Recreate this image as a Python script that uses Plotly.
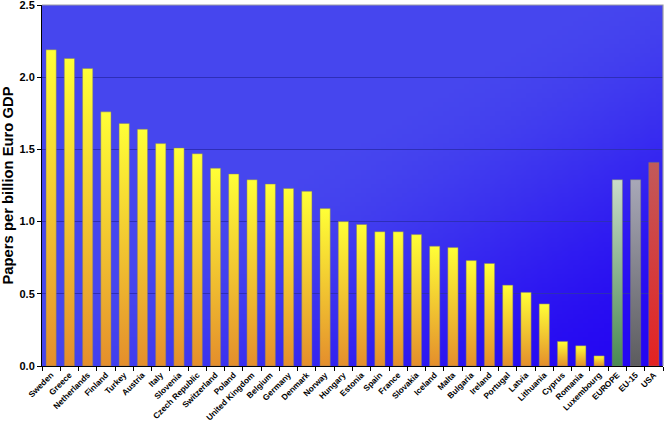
import base64, struct, zlib
import plotly.graph_objects as go

countries = ["Sweden", "Greece", "Netherlands", "Finland", "Turkey", "Austria", "Italy",
             "Slovenia", "Czech Republic", "Switzerland", "Poland", "United Kingdom",
             "Belgium", "Germany", "Denmark", "Norway", "Hungary", "Estonia", "Spain",
             "France", "Slovakia", "Iceland", "Malta", "Bulgaria", "Ireland", "Portugal",
             "Latvia", "Lithuania", "Cyprus", "Romania", "Luxembourg", "EUROPE", "EU-15", "USA"]
values = [2.19, 2.13, 2.06, 1.76, 1.68, 1.64, 1.54, 1.51, 1.47, 1.37, 1.33, 1.29,
          1.26, 1.23, 1.21, 1.09, 1.00, 0.98, 0.93, 0.93, 0.91, 0.83, 0.82, 0.73,
          0.71, 0.56, 0.51, 0.43, 0.17, 0.14, 0.07, 1.29, 1.29, 1.41]
y_ticks = [0.0, 0.5, 1.0, 1.5, 2.0, 2.5]
y_title = "Papers per billion Euro GDP"

# gradient (bottom, top) colours
country_grad = ("#e48e2c", "#ffff36")
special_grad = {"EUROPE": ("#4a8a52", "#cadcca"),
                "EU-15": ("#5c5c5e", "#a8a8b8"),
                "USA": ("#e42222", "#c25a5a")}


def gradient_png(w=120, h=80):
    c0 = (0x46, 0x46, 0xee)
    c1 = (0x24, 0x06, 0xf2)
    rows = []
    for j in range(h):
        row = bytearray([0])
        v = j / (h - 1)
        for i in range(w):
            u = i / (w - 1)
            t = (u + v - 0.85) / 1.15
            t = max(0.0, min(1.0, t))
            t = t * t * (3 - 2 * t)
            row += bytes(int(round(a + (b - a) * t)) for a, b in zip(c0, c1))
        rows.append(bytes(row))
    raw = b"".join(rows)

    def chunk(tag, data):
        c = tag + data
        return struct.pack(">I", len(data)) + c + struct.pack(">I", zlib.crc32(c) & 0xffffffff)

    png = b"\x89PNG\r\n\x1a\n" + chunk(b"IHDR", struct.pack(">IIBBBBB", w, h, 8, 2, 0, 0, 0)) \
        + chunk(b"IDAT", zlib.compress(raw, 9)) + chunk(b"IEND", b"")
    return "data:image/png;base64," + base64.b64encode(png).decode()


fig = go.Figure()
bw = 0.56
for i, (name, val) in enumerate(zip(countries, values)):
    bot, top = special_grad.get(name, country_grad)
    fig.add_trace(go.Scatter(
        x=[i - bw / 2, i - bw / 2, i + bw / 2, i + bw / 2, i - bw / 2],
        y=[0, val, val, 0, 0],
        mode="lines", fill="toself",
        fillgradient=dict(type="vertical", colorscale=[[0, bot], [1, top]], start=0, stop=val),
        line=dict(color="rgba(120,120,120,0.8)", width=0.6),
        name=name, showlegend=False,
        hovertemplate=f"{name}: {val}<extra></extra>",
    ))

fig.update_layout(
    width=666, height=421,
    margin=dict(l=42, r=3, t=5, b=55, autoexpand=False),
    paper_bgcolor="white",
    plot_bgcolor="rgba(0,0,0,0)",
    font=dict(family="Liberation Sans, Arial, sans-serif", color="black"),
    images=[dict(source=gradient_png(), xref="paper", yref="paper", x=0, y=1,
                 sizex=1, sizey=1, sizing="stretch", layer="below")],
    shapes=[dict(type="path", xref="paper", yref="paper", path="M0,1 L1,1 L1,0",
                 line=dict(color="#9a9aa6", width=1.2))],
)
fig.update_xaxes(
    range=[-0.5, len(countries) - 0.5],
    tickvals=list(range(len(countries))), ticktext=countries,
    tickangle=-45, ticks="", showgrid=False, zeroline=False,
    tickfont=dict(size=8.3, weight="bold"), ticklabeloverflow="allow",
    showline=True, linecolor="black", linewidth=1,
    minor=dict(tickvals=[i + 0.5 for i in range(-1, len(countries))], ticks="outside",
               ticklen=4, tickcolor="black", showgrid=False),
)
fig.update_yaxes(
    range=[0, 2.5], tickvals=y_ticks, tickformat=".1f",
    ticks="outside", ticklen=4, tickcolor="black",
    showgrid=True, gridcolor="#2e2eb8", gridwidth=1, zeroline=False,
    showline=True, linecolor="black", linewidth=1,
    tickfont=dict(size=11, weight="bold"), ticklabeloverflow="allow",
    title=dict(text=y_title, font=dict(size=14.8, weight="bold"), standoff=6),
)

fig.write_html("out.html", config={"displayModeBar": False},
               post_script="document.body.style.margin='0';document.body.style.overflow='hidden';")
